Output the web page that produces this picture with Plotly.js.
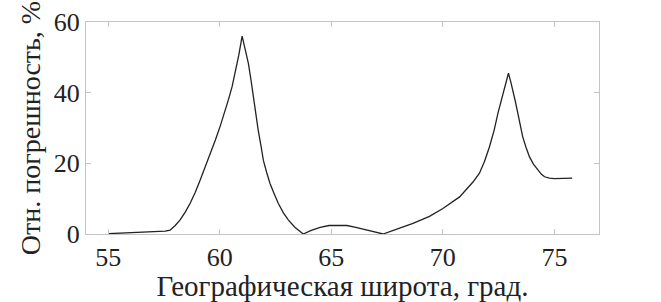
<!DOCTYPE html>
<html><head><meta charset="utf-8">
<script src="https://cdn.plot.ly/plotly-3.0.1.min.js"></script>
<style>html,body{margin:0;padding:0;background:#fff}#chart{width:661px;height:302px}</style>
</head><body><div id="chart"></div>
<script>
const latitude = [55.0, 56.0, 56.9, 57.55, 57.77, 58.0, 58.22, 58.45, 58.67, 58.9, 59.12, 59.35, 59.56, 59.8, 60.01, 60.2, 60.38, 60.55, 60.68, 60.85, 61.0, 61.15, 61.28, 61.4, 61.5, 61.62, 61.72, 61.85, 61.95, 62.1, 62.25, 62.45, 62.62, 62.85, 63.07, 63.35, 63.55, 63.74, 64.1, 64.5, 64.9, 65.3, 65.7, 66.1, 66.7, 67.32, 68.0, 68.66, 69.4, 70.0, 70.75, 71.05, 71.35, 71.64, 71.87, 72.09, 72.3, 72.47, 72.63, 72.76, 72.86, 72.94, 73.04, 73.14, 73.25, 73.36, 73.47, 73.58, 73.73, 73.88, 74.06, 74.26, 74.42, 74.56, 74.78, 75.0, 75.4, 75.8];
const errorPct = [0.1, 0.3, 0.5, 0.8, 1.1, 2.4, 4.0, 6.2, 8.7, 11.8, 15.3, 19.0, 22.8, 26.6, 30.4, 34.1, 37.9, 41.7, 45.5, 50.6, 56.0, 51.8, 48.3, 43.5, 38.9, 34.0, 29.4, 24.8, 20.9, 17.4, 14.3, 11.2, 8.7, 6.0, 4.0, 2.0, 0.9, 0.0, 1.0, 1.9, 2.4, 2.5, 2.4, 1.9, 1.0, 0.0, 1.5, 3.0, 5.0, 7.2, 10.5, 12.5, 14.7, 17.2, 20.6, 24.7, 29.4, 34.2, 38.2, 41.7, 44.0, 45.5, 43.2, 40.8, 37.5, 34.2, 30.8, 27.5, 24.5, 21.9, 19.8, 18.1, 16.9, 16.2, 15.8, 15.7, 15.7, 15.8];
const xTicks = [55, 60, 65, 70, 75];
const yTicks = [0, 20, 40, 60];
const xTitle = 'Географическая широта, град.';
const yTitle = 'Отн. погрешность, %';

const fam = 'Liberation Serif';
const trace = {
  x: latitude, y: errorPct, type: 'scatter', mode: 'lines',
  line: {color: '#222', width: 1.3, shape: 'linear'},
  hoverinfo: 'skip'
};
function axisCommon() {
  return {
    showgrid: false, zeroline: false, showline: true, linecolor: '#c4c4c4', linewidth: 1,
    mirror: 'ticks', ticks: 'inside', ticklen: 5, tickcolor: '#c4c4c4', tickwidth: 1,
    tickfont: {family: fam, size: 26, color: '#222'}
  };
}
const layout = {
  width: 661, height: 302,
  font: {family: fam, size: 26, color: '#222'},
  margin: {l: 86, r: 62, t: 22, b: 68},
  paper_bgcolor: '#fff', plot_bgcolor: '#fff',
  showlegend: false,
  xaxis: Object.assign(axisCommon(), {
    range: [54, 77], tickvals: xTicks, ticktext: xTicks.map(String),
    title: {text: xTitle, font: {family: fam, size: 29, color: '#222'}, standoff: 4}
  }),
  yaxis: Object.assign(axisCommon(), {
    range: [0, 60], tickvals: yTicks, ticktext: yTicks.map(String),
    title: {text: yTitle, font: {family: fam, size: 28, color: '#222'}, standoff: 4}
  })
};
Plotly.newPlot('chart', [trace], layout, {staticPlot: true, displayModeBar: false});
</script></body></html>
